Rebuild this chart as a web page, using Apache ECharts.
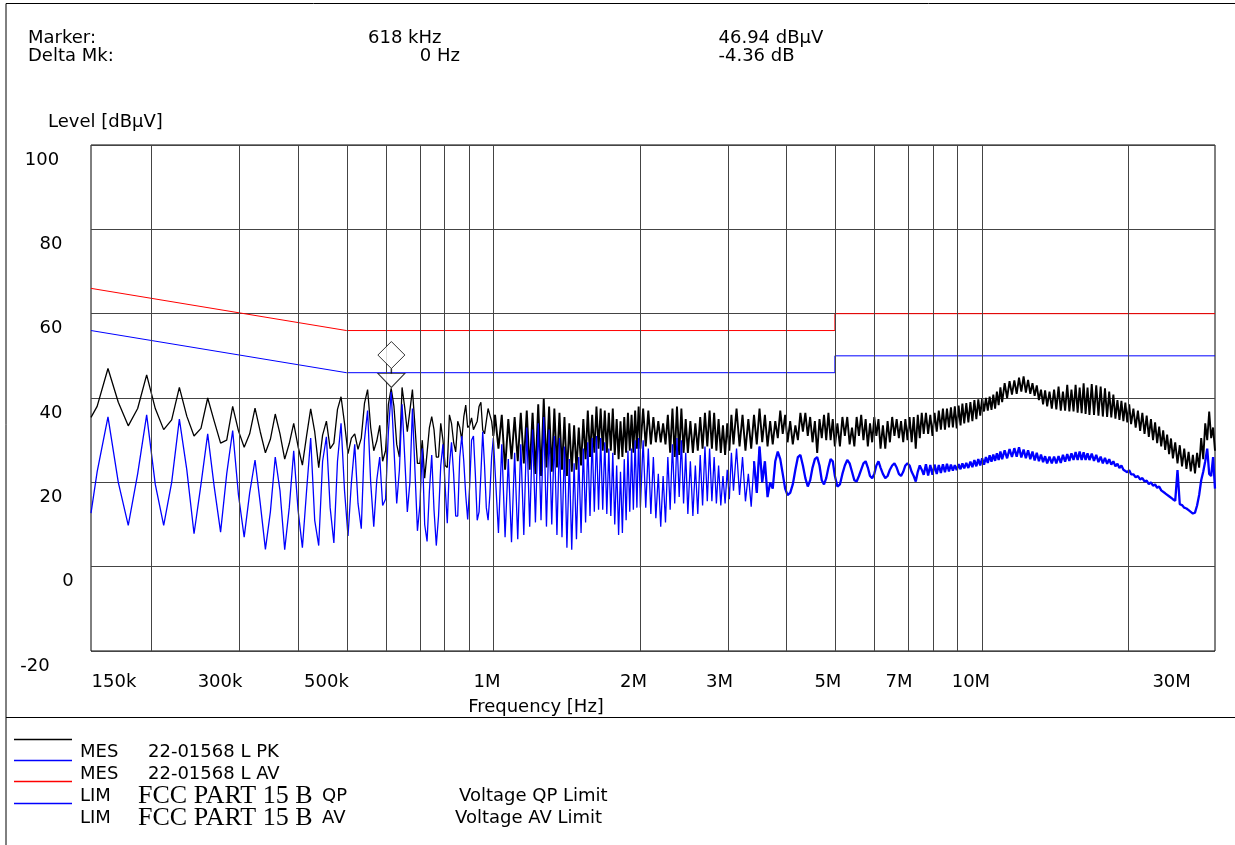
<!DOCTYPE html>
<html><head><meta charset="utf-8">
<script src="https://cdn.jsdelivr.net/npm/echarts@6/dist/echarts.min.js"></script>
<style>html,body{margin:0;padding:0;background:#fff}#c{width:1235px;height:845px}</style>
</head><body><div id="c"></div><script>
// ---------- data (frequency in kHz, level in dBµV) ----------
const freqLow = [150,154.4,162.5,170.6,178.8,186.9,195,203.1,211.3,219.4,
227.5,235.6,243.8,251.9,260,268.1,276.3,284.4,292.5,300.6,
308.8,316.9,325,333.1,341.3,349.4,357.5,365.6,373.8,381.9,
390,398.1,406.3,414.4,422.5,430.6,438.8,446.9,455,463.1,
471.3,479.4,487.5,495.6,503.8,511.9,520,528.1,536.3,544.4,
552.5,560.6,568.8,576.9,585,593.1,601.3,609.4,617.5,625.6,
633.8,641.9,650,658.1,666.3,674.4,682.5,690.6,698.8,706.9,
715,723.1,731.3,739.4,747.5,755.6,763.8,771.9,780,788.1,
796.3,804.4,812.5,820.6,828.8,836.9,845,853.1,861.3,869.4,
877.5,885.6,893.8,901.9,910,918.1,926.3,934.4,942.5,950.6,
958.8,966.9,975,983.1,991.3,999.4];
const pkLow = [35.4,38.0,47.0,39.0,33.4,37.5,45.5,37.5,32.5,34.8,
42.5,35.7,31.0,32.8,40.0,34.5,29.3,30.0,38.0,32.2,
28.3,31.5,37.6,32.0,27.0,30.2,36.2,31.5,25.5,29.2,
34.0,28.5,24.1,31.0,37.4,32.0,23.5,31.2,34.5,28.0,
29.3,37.3,40.3,34.0,26.8,30.5,31.5,27.8,30.5,38.7,
42.0,33.0,27.5,29.8,33.5,25.0,27.5,38.5,42.3,38.0,
29.0,26.0,42.5,37.8,32.0,37.0,42.0,33.5,24.5,24.5,
30.0,21.0,27.0,33.0,35.6,32.5,26.0,26.0,34.0,30.0,
24.0,23.5,36.0,34.0,29.5,27.2,34.5,33.0,30.0,35.5,
38.3,33.0,33.5,35.3,32.5,32.8,34.5,38.0,39.0,32.4,
31.5,34.5,37.5,36.0,34.5,31.0];
const avLow = [12.7,22.5,35.5,20.0,9.8,22.0,36.0,19.5,9.8,20.0,
35.0,23.0,7.8,19.5,31.5,19.0,8.2,22.0,32.3,17.0,
7.0,17.5,25.3,15.0,4.1,13.0,26.0,18.0,4.0,14.0,
27.5,13.4,4.5,18.0,30.5,11.0,5.0,25.0,30.8,14.0,
5.6,25.0,34.0,18.0,7.3,20.0,29.0,15.0,9.0,30.0,
37.0,20.0,9.5,20.5,26.0,14.5,16.0,32.0,41.5,28.0,
15.0,23.0,38.5,26.0,13.0,20.0,37.5,23.0,8.5,14.5,
28.0,10.0,6.0,18.0,26.5,13.5,5.0,12.0,24.0,29.0,
19.0,10.3,24.0,29.5,22.0,12.0,12.0,26.0,31.0,25.0,
17.0,11.2,19.0,30.0,31.0,22.0,11.0,13.0,22.0,32.0,
24.0,14.0,11.0,17.0,26.0,30.5];

const freqMid = [1007.5,1023.8,1040,1056.3,1072.5,1088.8,1105,1121.3,1137.5,1153.8,
1170,1186.3,1202.5,1218.8,1235,1251.3,1267.5,1283.8,1300,1316.3,
1332.5,1348.8,1365,1381.3,1397.5,1413.8,1430,1446.3,1462.5,1478.8,
1495,1511.3,1527.5,1543.8,1560,1576.3,1592.5,1608.8,1625,1641.3,
1657.5,1673.8,1690,1706.3,1722.5,1738.8,1755,1771.3,1787.5,1803.8,
1820,1836.3,1852.5,1868.8,1885,1901.3,1917.5,1933.8,1950,1966.3,
1982.5,1998.8];
const pkMid = [36.0,28.0,36.0,23.0,35.0,25.5,35.5,25.0,36.5,24.5,
37.0,23.0,36.5,22.0,38.5,21.5,39.8,23.5,38.0,22.5,
37.5,23.5,36.5,23.0,35.5,21.5,34.0,22.5,33.5,23.0,
33.0,24.0,35.0,25.5,37.0,26.0,36.0,27.0,38.0,28.0,
37.5,27.5,37.0,27.0,36.5,27.5,37.5,26.5,35.0,25.5,
34.5,26.0,35.5,27.0,36.5,27.5,36.0,27.0,37.0,28.0,
38.0,28.0];
const avMid = [30.5,8.0,29.0,7.0,25.5,5.8,27.0,6.5,29.0,7.5,
33.0,9.5,32.5,10.5,34.0,11.0,35.5,9.5,32.5,10.0,
31.0,7.5,30.5,7.0,28.5,4.5,25.5,4.0,24.5,6.5,
26.0,8.0,28.0,10.5,29.5,12.0,30.5,13.0,31.0,13.5,
30.5,13.5,29.5,12.5,28.0,12.0,27.0,10.0,24.0,7.5,
22.5,8.0,25.5,11.0,27.5,13.0,28.0,13.5,30.0,14.0,
30.5,14.0];

const freqHigh = [2025,2050,2075,2100,2125,2150,2175,2200,2225,2250,2275,2300,2325,2350,2375,2400,2425,2450,2475,2500,
2530,2560,2590,2620,2650,2680,2710,2740,2770,2800,2830,2860,2890,2920,2950,2980,3010,3040,3070,3100,
3145,3190,3235,3280,3325,3370,3415,3460,3505,3550,3595,3640,3685,3730,3775,3820,3865,3910,3955,4000,
4050,4100,4150,4200,4250,4300,4350,4400,4450,4500,4550,4600,4650,4700,4750,4800,4850,4900,4950,5000,
5060,5120,5180,5240,5300,5360,5420,5480,5540,5600,5660,5720,5780,5840,5900,5960,6020,6080,6140,6200,
6270,6340,6410,6480,6550,6620,6690,6760,6830,6900,6970,7040,7110,7180,7250,7320,7390,7460,7530,7600,
7680,7760,7840,7920,8000,8080,8160,8240,8320,8400,8480,8560,8640,8720,8800,8880,8960,9040,9120,9200,
9290,9380,9470,9560,9650,9740,9830,9920,10010,10100,10190,10280,10370,10460,10550,10640,10730,10820,10910,11000,
11130,11260,11390,11520,11650,11780,11910,12040,12170,12300,12430,12560,12690,12820,12950,13080,13210,13340,13470,13600,
13750,13900,14050,14200,14350,14500,14650,14800,14950,15100,15250,15400,15550,15700,15850,16000,16150,16300,16450,16600,
16780,16960,17140,17320,17500,17680,17860,18040,18220,18400,18580,18760,18940,19120,19300,19480,19660,19840,20020,20200,
20420,20640,20860,21080,21300,21520,21740,21960,22180,22400,22620,22840,23060,23280,23500,23720,23940,24160,24380,24600,
24870,25140,25410,25680,25950,26220,26490,26760,27030,27300,27570,27840,28110,28380,28650,28920,29190,29460,29730,30000];
const pkHigh = [37.5,28.5,37.0,29.0,35.5,29.5,34.5,29.5,34.0,29.0,36.0,27.0,37.5,26.0,38.0,26.5,37.5,27.0,35.0,27.0,
34.5,27.0,34.0,27.5,35.5,28.0,36.5,28.5,37.0,28.0,36.5,27.5,35.0,27.0,33.5,26.5,34.0,27.5,36.0,29.0,
37.5,28.5,36.0,27.5,35.0,28.0,36.0,29.0,37.5,29.5,36.0,28.5,34.5,29.0,34.5,30.5,37.0,31.5,36.0,29.5,
34.5,29.0,33.5,30.0,36.5,32.0,36.5,31.0,35.5,29.5,34.5,27.0,35.0,30.5,36.0,30.0,36.5,30.0,35.0,28.5,
34.0,28.5,35.5,31.0,35.5,29.0,33.0,28.5,35.5,31.0,36.0,30.0,35.0,28.5,34.0,29.5,35.5,31.0,35.0,28.0,
33.5,28.0,34.5,29.5,35.5,31.0,35.0,30.5,34.5,29.5,35.0,30.0,35.5,29.5,35.5,28.0,36.0,30.5,36.5,31.5,
36.5,31.5,36.0,31.0,36.5,32.0,37.0,32.5,37.5,32.5,37.5,33.0,37.8,33.0,38.0,32.8,38.2,33.5,38.7,34.0,
38.8,34.2,39.0,34.5,39.5,35.0,39.7,35.8,39.9,36.8,40.0,37.0,40.3,37.2,40.8,37.5,41.5,38.3,42.5,39.0,
43.5,40.0,44.0,40.8,44.2,41.0,44.8,41.5,45.1,41.3,44.3,41.0,43.5,40.5,43.0,39.5,42.0,38.5,41.8,38.0,
41.5,37.5,42.0,37.3,42.7,37.0,41.5,37.0,43.1,36.8,42.0,36.8,43.1,36.5,42.5,36.4,43.5,36.2,42.5,36.0,
43.3,36.0,43.0,35.8,42.7,35.6,42.3,35.5,41.5,35.4,40.8,35.1,39.5,34.8,39.3,34.5,38.9,34.2,38.5,33.8,
37.5,33.0,37.0,32.2,36.5,31.5,35.8,30.8,35.0,30.0,34.2,29.3,33.2,28.5,32.3,27.7,31.3,26.7,30.4,25.7,
29.5,24.5,28.8,23.8,28.0,23.2,27.2,22.6,26.5,22.1,27.0,23.5,30.5,25.5,34.0,30.0,36.8,30.5,33.0,27.5];
const avHigh = [30.0,14.0,28.0,12.5,26.0,11.5,22.0,9.5,21.5,10.5,26.0,13.5,29.0,15.0,30.5,16.5,30.0,15.0,27.0,12.5,
25.0,12.0,24.0,12.5,26.5,14.5,28.5,15.5,28.0,15.5,26.0,15.0,24.0,14.5,21.5,15.0,23.0,16.0,27.0,18.0,
28.0,17.0,26.0,15.5,22.0,14.2,25.0,17.5,28.5,20.0,25.0,16.5,20.0,18.5,25.0,27.3,25.5,22.0,18.5,17.0,
17.5,19.5,23.0,26.0,26.5,24.0,21.0,19.0,20.5,23.5,25.5,26.0,24.0,20.5,19.5,21.0,23.5,25.5,25.0,21.5,
19.0,19.5,22.0,24.0,25.3,24.5,22.5,20.5,20.2,21.5,23.0,24.5,25.0,23.5,21.5,21.0,22.0,24.0,25.0,23.5,
22.0,21.0,21.5,23.0,24.0,24.5,23.5,22.0,21.5,22.5,24.0,24.5,24.0,22.5,21.5,20.2,22.5,24.0,23.0,21.8,
24.3,21.6,24.1,21.8,24.2,22.0,24.1,22.2,24.3,22.4,24.4,22.6,24.2,22.8,24.1,22.9,24.3,23.1,24.5,23.3,
24.6,23.4,24.9,23.6,25.3,23.8,25.5,24.0,25.7,24.2,26.0,24.6,26.4,24.9,26.6,25.1,26.9,25.3,27.3,25.5,
27.6,25.7,27.9,26.0,28.1,26.1,28.3,25.9,27.8,25.7,27.6,25.5,27.3,25.2,27.0,25.0,26.6,24.8,26.2,24.5,
26.1,24.5,26.1,24.5,26.2,24.6,26.5,24.9,26.7,25.1,26.9,25.3,27.2,25.3,27.3,25.3,27.1,25.3,26.9,25.3,
26.8,25.1,26.5,24.8,26.1,24.5,25.8,24.4,25.5,24.2,25.0,23.8,24.4,23.4,24.0,23.0,23.4,22.4,22.9,21.9,
21.9,21.2,21.5,20.7,21.0,20.2,20.4,19.6,20.0,19.2,19.5,18.7,19.0,18.1,18.3,17.4,17.6,16.7,16.9,16.0,
15.6,22.9,14.8,14.6,14.0,13.8,13.4,13.0,12.6,12.8,14.5,17.0,20.5,22.5,25.0,28.0,22.0,21.5,26.0,18.5];

const qpLimFreq = [150, 500, 5000, 5000, 30000];
const qpLimLevel = [66, 56, 56, 60, 60];
const avLimFreq = [150, 500, 5000, 5000, 30000];
const avLimLevel = [56, 46, 46, 50, 50];

const gridFreqKHz = [200,300,400,500,600,700,800,900,1000,2000,3000,4000,5000,6000,7000,8000,9000,10000,20000];
const xTickFreqKHz = [150,300,500,1000,2000,3000,5000,7000,10000,30000];
const xTickLabels = ['150k','300k','500k','1M','2M','3M','5M','7M','10M','30M'];
const yTicks = [100,80,60,40,20,0,-20];

const markerFreqKHz = 618;
const markerLevel = 46.94;

// ---------- layout / style ----------
const FONT = '"DejaVu Sans", sans-serif';
const SERIF = '"Liberation Serif", serif';
const xLabelShift = [23,-18,-20,-6.5,-7,-7,-7,-7.3,-11,-43.4];
const yLabelShift = [-9,0,0,0,0,17,-16];
const PK_SPLIT_KHZ = 1000;   // trace drawn with a heavier pen above this (dense region)
const AV_SPLIT_KHZ = 3460;

const lx = f => Math.log10(f * 1000);
const freqAll = freqLow.concat(freqMid, freqHigh);
const pkAll = pkLow.concat(pkMid, pkHigh);
const avAll = avLow.concat(avMid, avHigh);
const n = Math.min(freqAll.length, pkAll.length, avAll.length);
function part(levels, lo, hi) {
  const out = [];
  for (let i = 0; i < n; i++) {
    const f = freqAll[i], fPrev = i > 0 ? freqAll[i - 1] : f, fNext = i < n - 1 ? freqAll[i + 1] : f;
    if ((fNext >= lo || f >= lo) && (fPrev <= hi || f <= hi)) out.push([lx(f), levels[i]]);
  }
  return out;
}
const pkLo = part(pkAll, 0, PK_SPLIT_KHZ), pkHi = part(pkAll, PK_SPLIT_KHZ, 1e9);
const avLo = part(avAll, 0, AV_SPLIT_KHZ), avHi = part(avAll, AV_SPLIT_KHZ, 1e9);
const limData = (fs, ls) => fs.map((f, i) => [lx(f), ls[i]]);

const pad = s => s >= 0 ? [0, 0, 0, 2 * s] : [0, -2 * s, 0, 0];
const xRich = {};
xTickLabels.forEach((t, i) => { xRich['x' + i] = {fontFamily: FONT, fontSize: 18, color: '#000', lineHeight: 20, padding: pad(xLabelShift[i])}; });
const yRich = {};
yTicks.forEach((t, i) => { const p = pad(yLabelShift[i]); p[0] = 30; yRich['y' + i] = {fontFamily: FONT, fontSize: 18, color: '#000', lineHeight: 20, padding: p}; });

function txt(x, y, text, align, font) {
  return {type: 'text', x: x, y: y, silent: true, style: {text: text, fill: '#000', font: font || ('18px ' + FONT),
    textAlign: align || 'left', align: align || 'left', textVerticalAlign: 'middle', verticalAlign: 'middle'}};
}
function legendLine(id, y, color) {
  return {type: 'rect', id: id, silent: true, shape: {x: 14, y: y - 0.7, width: 58, height: 1.4}, style: {fill: color, stroke: null}};
}
function trace(name, data, color, width, z) {
  return {type: 'line', name: name, data: data, symbol: 'none', silent: true, z: z, lineStyle: {color: color, width: width}};
}

const chart = echarts.init(document.getElementById('c'), null, {renderer: 'canvas'});
chart.setOption({
  animation: false,
  backgroundColor: '#fff',
  grid: {left: 91, top: 145, width: 1124, height: 506, show: true, borderColor: '#000', borderWidth: 1, backgroundColor: 'transparent', containLabel: false, outerBoundsMode: 'none'},
  xAxis: {
    type: 'value', min: lx(150), max: lx(30000),
    name: 'Frequency [Hz]', nameLocation: 'middle', nameGap: 46,
    nameTextStyle: {fontFamily: FONT, fontSize: 18, color: '#000', lineHeight: 20, padding: [0, 234, 0, 0]},
    axisLine: {show: false}, axisTick: {show: false}, splitLine: {show: false},
    axisLabel: {
      customValues: xTickFreqKHz.map(lx), margin: 21,
      formatter: v => { const i = xTickFreqKHz.findIndex(f => Math.abs(lx(f) - v) < 1e-6); return i < 0 ? '' : '{x' + i + '|' + xTickLabels[i] + '}'; },
      rich: xRich
    }
  },
  yAxis: {
    type: 'value', min: -20, max: 100, interval: 20,
    axisLine: {show: false}, axisTick: {show: false},
    splitLine: {show: true, lineStyle: {color: '#444', width: 1}},
    axisLabel: {
      margin: 40, align: 'center', verticalAlign: 'middle',
      formatter: v => { const i = yTicks.indexOf(Math.round(v)); return i < 0 ? '' : '{y' + i + '|' + yTicks[i] + '}'; },
      rich: yRich
    }
  },
  series: [
    {type: 'line', name: 'QP Limit', data: limData(qpLimFreq, qpLimLevel), symbol: 'none', lineStyle: {color: '#ff0000', width: 1}, silent: true,
     markLine: {silent: true, symbol: ['none', 'none'], label: {show: false}, animation: false,
       lineStyle: {color: '#444', width: 1, type: 'solid'}, emphasis: {disabled: true},
       data: gridFreqKHz.map(f => ({xAxis: lx(f)}))}},
    {type: 'line', name: 'AV Limit', data: limData(avLimFreq, avLimLevel), symbol: 'none', lineStyle: {color: '#0000ff', width: 1}, silent: true},
    trace('PK', pkLo, '#000000', 1.3, 2),
    trace('PK dense', pkHi, '#000000', 1.9, 2),
    trace('AV', avLo, '#0000ff', 1.3, 3),
    trace('AV dense', avHi, '#0000ff', 2.3, 3),
    {type: 'scatter', name: 'Marker', z: 6, silent: true,
     itemStyle: {color: '#ffffff', borderColor: '#000000', borderWidth: 1},
     data: [
       {value: [lx(markerFreqKHz), markerLevel], symbol: 'path://M1,0L2,1L1,2L0,1Z', symbolSize: [27, 27], symbolOffset: [0, -13.7]},
       {value: [lx(markerFreqKHz), markerLevel], symbol: 'path://M0,0L2,0L1,1Z', symbolSize: [27, 14], symbolOffset: [0, 11.6]},
       {value: [lx(markerFreqKHz), markerLevel], symbol: 'rect', symbolSize: [1.5, 5], symbolOffset: [0, 2.3], itemStyle: {color: '#000', borderWidth: 0}}
     ]}
  ],
  graphic: [
    {type: 'rect', id: 'frame', silent: true, shape: {x: 6, y: 3.5, width: 1260, height: 900}, style: {fill: null, stroke: '#000', lineWidth: 1}},
    {type: 'rect', id: 'sep', silent: true, shape: {x: 6, y: 717, width: 1229, height: 1}, style: {fill: '#000', stroke: null}},
    txt(28, 38, 'Marker:'),
    txt(28, 56, 'Delta Mk:'),
    txt(441.5, 38, '618 kHz', 'right'),
    txt(460, 56, '0 Hz', 'right'),
    txt(718.5, 38, '46.94 dBµV'),
    txt(718.5, 56, '-4.36 dB'),
    txt(48, 122.5, 'Level [dBµV]'),
    legendLine('lg1', 739.5, '#000000'),
    legendLine('lg2', 760.5, '#0000ff'),
    legendLine('lg3', 781.5, '#ff0000'),
    legendLine('lg4', 803.5, '#0000ff'),
    txt(80, 752.5, 'MES'), txt(148, 752.5, '22-01568 L PK'),
    txt(80, 774, 'MES'), txt(148, 774, '22-01568 L AV'),
    txt(80, 796, 'LIM'), txt(138, 796, 'FCC PART 15 B', 'left', '26px ' + SERIF), txt(322, 796, 'QP'), txt(459, 796, 'Voltage QP Limit'),
    txt(80, 818, 'LIM'), txt(138, 818, 'FCC PART 15 B', 'left', '26px ' + SERIF), txt(322, 818, 'AV'), txt(455, 818, 'Voltage AV Limit')
  ]
});
</script></body></html>
